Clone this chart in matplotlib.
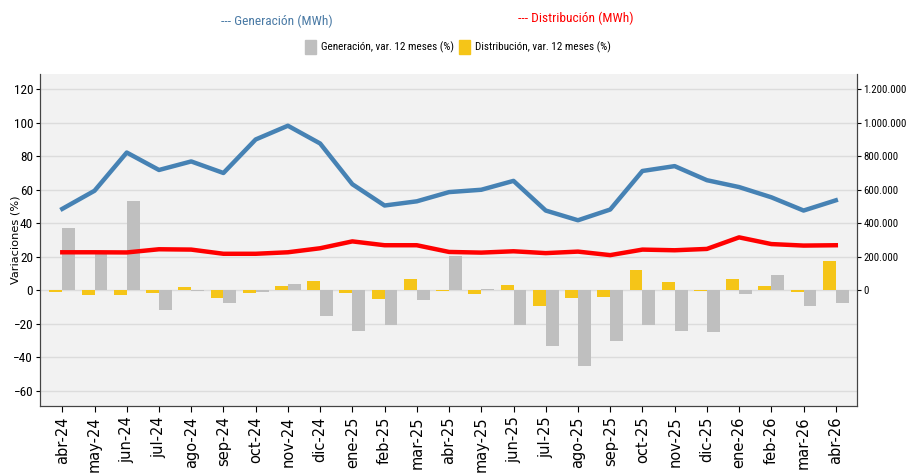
import matplotlib
matplotlib.use("Agg")
import matplotlib.pyplot as plt
from matplotlib import font_manager
import numpy as np
from matplotlib.ticker import FuncFormatter, FixedLocator
from matplotlib.patches import Patch

months = ["abr-24", "may-24", "jun-24", "jul-24", "ago-24", "sep-24", "oct-24", "nov-24",
          "dic-24", "ene-25", "feb-25", "mar-25", "abr-25", "may-25", "jun-25", "jul-25",
          "ago-25", "sep-25", "oct-25", "nov-25", "dic-25", "ene-26", "feb-26", "mar-26", "abr-26"]

gen_var = [37.3, 21.6, 53.1, -12.0, -0.4, -7.8, -1.2, 3.7, -15.1, -24.1, -20.6, -5.9, 20.4,
           1.0, -20.4, -33.5, -44.9, -30.4, -20.8, -24.5, -24.9, -2.0, 9.2, -9.2, -7.8]
dist_var = [-0.8, -2.7, -2.7, -1.4, 1.8, -4.7, -1.4, 2.4, 5.3, -1.8, -4.9, 6.7, -0.4,
            -2.0, 2.9, -9.2, -4.5, -4.1, 12.0, 5.1, -0.4, 6.5, 2.5, -1.0, 17.3]
gen_mwh = [486000, 594000, 822000, 718000, 769000, 700000, 900000, 982000, 876000, 633000,
           506000, 531000, 586000, 600000, 653000, 476000, 418000, 482000, 712000, 741000,
           657000, 616000, 555000, 476000, 537000]
dist_mwh = [227000, 227000, 226000, 245000, 243000, 218000, 218000, 227000, 251000, 292000,
            269000, 269000, 229000, 225000, 233000, 222000, 231000, 210000, 243000, 239000,
            247000, 316000, 276000, 267000, 269000]

# find a condensed / narrow sans font if one is installed
narrow_family = None
narrow_file = None
prefs = ["Liberation Sans Narrow", "Roboto Condensed", "Open Sans Condensed",
         "DejaVu Sans Condensed", "Noto Sans Condensed", "Arial Narrow"]
fams = {f.name: f for f in font_manager.fontManager.ttflist}
for p in prefs:
    if p in fams:
        narrow_family = p
        break
if narrow_family is None:
    for f in font_manager.fontManager.ttflist:
        fn = f.fname.lower()
        if ("condensed" in fn or "narrow" in fn) and "bold" not in fn and "italic" not in fn \
                and "light" not in fn and "oblique" not in fn and "cjk" not in fn:
            narrow_file = f.fname
            break


def tprop(size, fallback):
    if narrow_family is not None:
        return font_manager.FontProperties(family=narrow_family, size=size)
    if narrow_file is not None:
        return font_manager.FontProperties(fname=narrow_file, size=size)
    return font_manager.FontProperties(family="DejaVu Sans", size=fallback)


x = np.arange(len(months))

fig = plt.figure(figsize=(9.06, 4.75), dpi=100)
ax = fig.add_axes([0.0442, 0.1453, 0.9018, 0.6987])
ax.set_facecolor("#f2f2f2")

bw = 0.4
ax.bar(x - bw / 2, dist_var, width=bw, color="#f5c518", zorder=2)
ax.bar(x + bw / 2, gen_var, width=bw, color="#bfbfbf", zorder=2)

ax.set_ylim(-69, 129)
ax.set_xlim(-0.69, len(months) - 1 + 0.66)
ax.yaxis.set_major_locator(FixedLocator(np.arange(-60, 121, 20)))
ax.grid(axis="y", color="#dcdcdc", linewidth=1, zorder=0)
ax.set_axisbelow(True)
ax.set_xticks(x)
ax.set_xticklabels(months)
ax.tick_params(axis="x", length=4, labelrotation=90, labelsize=10.5)
ax.tick_params(axis="y", length=3, pad=2)
yp = tprop(9.5, 7.5)
for lab in ax.get_yticklabels():
    lab.set_fontproperties(yp)
ax.set_ylabel("Variaciones (%)", fontsize=8.2)
ax.yaxis.set_label_coords(-0.024, 0.5)

for s in ["left", "bottom", "right"]:
    ax.spines[s].set_color("#444444")
ax.spines["top"].set_visible(False)

ax2 = ax.twinx()
ax2.set_ylim(-690000, 1290000)
ax2.plot(x, gen_mwh, color="#4682b4", linewidth=3.2, zorder=3)
ax2.plot(x, dist_mwh, color="#ff0000", linewidth=3.2, zorder=3)
ax2.yaxis.set_major_locator(FixedLocator(np.arange(0, 1200001, 200000)))
ax2.yaxis.set_major_formatter(FuncFormatter(lambda v, p: f"{int(v):,}".replace(",", ".")))
ax2.tick_params(axis="y", length=3, pad=1.5)
yp2 = tprop(7.8, 6.3)
for lab in ax2.get_yticklabels():
    lab.set_fontproperties(yp2)
ax2.spines["top"].set_visible(False)
for s in ["left", "bottom", "right"]:
    ax2.spines[s].set_color("#444444")

fig.text(0.306, 0.956, "--- Generación (MWh)", color="#4a7aa5",
         ha="center", va="center", fontproperties=tprop(9.6, 8.0))
fig.text(0.636, 0.962, "--- Distribución (MWh)", color="#ff0000",
         ha="center", va="center", fontproperties=tprop(9.6, 8.0))

handles = [Patch(color="#bfbfbf", label="Generación, var. 12 meses (%)"),
           Patch(color="#f5c518", label="Distribución, var. 12 meses (%)")]
fig.legend(handles=handles, loc="center", bbox_to_anchor=(0.5055, 0.901), ncol=2,
           frameon=False, prop=tprop(8.0, 6.5), handlelength=1.0,
           handleheight=1.55, handletextpad=0.4, columnspacing=0.5)

fig.savefig("out.png", dpi=100)
